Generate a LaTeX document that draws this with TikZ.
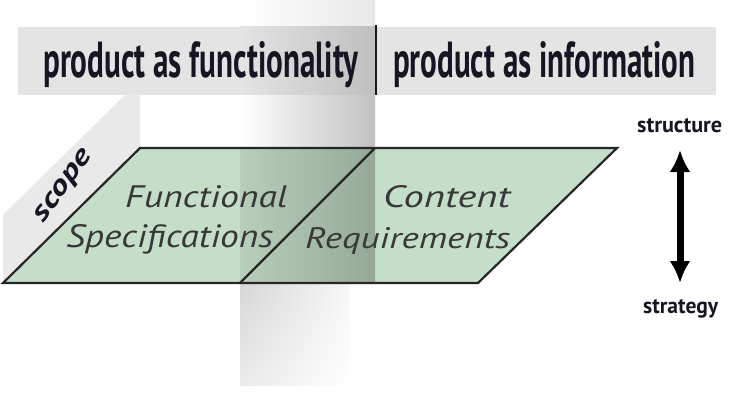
\documentclass[tikz,border=0pt]{standalone}
\usepackage{fontspec}
\setmainfont{PT Sans}
\usepackage{tikz}
\usetikzlibrary{arrows.meta,shadings}

\definecolor{planegreen}{RGB}{197,222,201}
\definecolor{bargray}{RGB}{228,228,228}
\definecolor{wallgray}{RGB}{233,233,233}
\definecolor{inkdark}{RGB}{22,22,34}

\newcommand{\squeeze}[3]{\resizebox{#1}{#2}{#3}}

\begin{document}
\begin{tikzpicture}[x=1bp,y=1bp,
    hdr/.style={inner sep=0pt, text=inkdark, font=\bfseries},
    area/.style={inner sep=0pt, text=black!78, font=\itshape},
    scopelabel/.style={inner sep=0pt, text=inkdark, font=\bfseries\itshape},
    level/.style={inner sep=0pt, text=inkdark, font=\bfseries},
    edge/.style={line width=2.2bp, draw=black!85},
    updown/.style={line width=7bp, {Latex[length=22bp,width=21bp]}-{Latex[length=22bp,width=21bp]}}]
        \useasboundingbox (0,0) rectangle (729,414);

        % wall behind the scope edge
        \fill[wallgray] (3,131) -- (140,266) -- (140,334) -- (3,199) -- cycle;

        % the plane
        \fill[planegreen] (3,131) -- (140,266) -- (617,266) -- (478,131) -- cycle;

        % headers
        \fill[bargray] (18,319) rectangle (375,387);
        \fill[bargray] (376,319) rectangle (716,387);

        % shaded band
        \shade[left color=white, right color=black!9] (240,387) rectangle (375,414);
        \shade[left color=bargray, right color=bargray!84!black] (240,319) rectangle (375,387);
        \shade[left color=white, right color=black!24] (240,266) rectangle (375,319);
        \shade[left color=planegreen!93!black, right color=planegreen!76!black] (240,131) rectangle (375,266);
        \shade[upper left=black!16, upper right=black!3, lower left=black!8, lower right=white] (240,29) rectangle (350,131);

        \draw[edge] (3,131) -- (140,266) -- (617,266) -- (478,131) -- cycle;
        \draw[edge] (375,266) -- (240,131);
        \draw[line width=1.4bp, black!90] (376,319) -- (376,389);

        \node[hdr, anchor=base west] (functionality) at (43,336) {\squeeze{315bp}{36bp}{product as functionality}};
        \node[hdr, anchor=base west] (information) at (393,336) {\squeeze{302bp}{36bp}{product as information}};

        \node[area, anchor=base west] (functional) at (125,207) {\squeeze{162bp}{22bp}{Functional}};
        \node[area, anchor=base west] (specifications) at (66,167) {\squeeze{207bp}{23bp}{Specifications}};
        \node[area, anchor=base west] (content) at (383,207) {\squeeze{127bp}{22bp}{Content}};
        \node[area, anchor=base west] (requirements) at (305,166) {\squeeze{205bp}{21bp}{Requirements}};

        \node[scopelabel, rotate=54] (scope) at (65,227) {\squeeze{84bp}{14bp}{scope}};

        \node[level, anchor=base west] (structure) at (637,282) {\squeeze{85bp}{14bp}{structure}};
        \node[level, anchor=base west] (strategy) at (643,101) {\squeeze{75bp}{14bp}{strategy}};
        \coordinate (uptip) at (680,264);
        \coordinate (downtip) at (680,131);
        \draw[updown] (uptip) -- (downtip);
\end{tikzpicture}
\end{document}
